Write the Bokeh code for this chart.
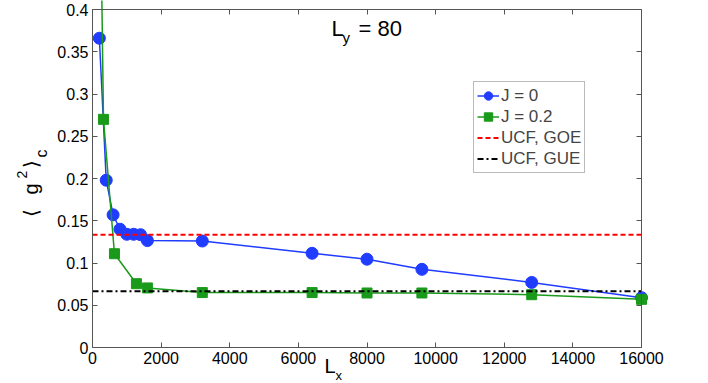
import math
from bokeh.plotting import figure
from bokeh.models import (LinearAxis, FixedTicker, Label, Range1d, Legend, LegendItem)
from bokeh.embed import file_html
from bokeh.resources import INLINE

# ---- data ----
lx_j0 = [200, 400, 600, 800, 1000, 1200, 1400, 1600, 3200, 6400, 8000, 9600, 12800, 16000]
g2_j0 = [0.366, 0.198, 0.157, 0.140, 0.134, 0.134, 0.1335, 0.1265, 0.126, 0.1115, 0.1045, 0.0925, 0.077, 0.059]

lx_j02 = [160, 320, 640, 1280, 1600, 3200, 6400, 8000, 9600, 12800, 16000]
g2_j02 = [0.75, 0.270, 0.111, 0.0755, 0.0705, 0.065, 0.065, 0.0645, 0.0645, 0.0625, 0.057]

ucf_x = [0, 16000]
ucf_goe = [2 / 15, 2 / 15]
ucf_gue = [1 / 15, 1 / 15]

x_ticks = [0, 2000, 4000, 6000, 8000, 10000, 12000, 14000, 16000]
x_tick_labels = ["0", "2000", "4000", "6000", "8000", "10000", "12000", "14000", "16000"]
y_ticks = [0, 0.05, 0.1, 0.15, 0.2, 0.25, 0.3, 0.35, 0.4]
y_tick_labels = ["0", "0.05", "0.1", "0.15", "0.2", "0.25", "0.3", "0.35", "0.4"]

X_MIN, X_MAX = 0, 16000
Y_MIN, Y_MAX = 0, 0.4

FONT = "Liberation Sans"
BLUE = "#1f3cff"
GREEN = "#1a9a1a"
AXC = "#555555"

# ---- layout: the frame fills the canvas; the box sits at these pixels ----
W, H = 700, 383
BOX_L, BOX_R, BOX_T, BOX_B = 92, 641, 9, 347
xs = (X_MAX - X_MIN) / (BOX_R - BOX_L)
ys = (Y_MAX - Y_MIN) / (BOX_B - BOX_T)

p = figure(width=W, height=H, output_backend="svg", toolbar_location=None,
           x_range=Range1d(X_MIN - BOX_L * xs, X_MAX + (W - BOX_R) * xs),
           y_range=Range1d(Y_MIN - (H - BOX_B) * ys, Y_MAX + BOX_T * ys),
           min_border=0, x_axis_location=None, y_axis_location=None)
p.grid.visible = False
p.outline_line_color = None
p.background_fill_color = "white"
p.border_fill_color = "white"

def make_axis(ticks, labels, loc, bounds, show_labels):
    ax = LinearAxis(ticker=FixedTicker(ticks=ticks), fixed_location=loc, bounds=bounds)
    ax.major_tick_in = 5
    ax.major_tick_out = 0
    ax.minor_tick_line_color = None
    ax.axis_line_color = AXC
    ax.major_tick_line_color = AXC
    ax.major_label_text_font = FONT
    ax.major_label_text_font_size = "16px"
    if show_labels:
        ax.major_label_overrides = {t: l for t, l in zip(ticks, labels)}
        ax.major_label_text_color = "black"
        ax.major_label_standoff = 4
    else:
        ax.major_label_text_color = None
        ax.major_label_standoff = 0
    return ax

p.add_layout(make_axis(x_ticks, x_tick_labels, Y_MIN, (X_MIN, X_MAX), True), "below")
p.add_layout(make_axis(y_ticks, y_tick_labels, X_MIN, (Y_MIN, Y_MAX), True), "left")
p.add_layout(make_axis(x_ticks, x_tick_labels, Y_MAX, (X_MIN, X_MAX), False), "above")
p.add_layout(make_axis(y_ticks, y_tick_labels, X_MAX, (Y_MIN, Y_MAX), False), "right")

l1 = p.line(lx_j0, g2_j0, line_color=BLUE, line_width=1.5)
m1 = p.scatter(lx_j0, g2_j0, marker="circle", size=12, fill_color=BLUE, line_color=BLUE)
l2 = p.line(lx_j02, g2_j02, line_color=GREEN, line_width=1.5)
m2 = p.scatter(lx_j02, g2_j02, marker="square", size=10, fill_color=GREEN, line_color=GREEN)
l3 = p.line(ucf_x, ucf_goe, line_color="#ff0000", line_width=2, line_dash="5 3")
l4 = p.line(ucf_x, ucf_gue, line_color="black", line_width=2, line_dash="6 3 2 3")

legend = Legend(items=[
    LegendItem(label="J = 0", renderers=[l1, m1]),
    LegendItem(label="J = 0.2", renderers=[l2, m2]),
    LegendItem(label="UCF, GOE", renderers=[l3]),
    LegendItem(label="UCF, GUE", renderers=[l4]),
], location=(473, H - 173))
legend.label_text_font = FONT
legend.label_text_font_size = "17px"
legend.label_height = 21
legend.glyph_height = 21
legend.glyph_width = 22
legend.label_standoff = 2
legend.padding = 3
legend.spacing = 0
legend.margin = 0
legend.border_line_color = "#777777"
legend.border_line_width = 1
legend.background_fill_alpha = 1
p.add_layout(legend, "center")

def lab(text, px, py, size, angle=0.0):
    p.add_layout(Label(x=px, y=H - py, x_units="screen", y_units="screen", text=text,
                       text_font=FONT, text_font_size=size, text_align="left",
                       text_baseline="alphabetic", angle=angle, text_color="black"))

# title L_y = 80
lab("L", 331, 28, "22px")
lab("y", 342, 37, "15px")
lab("= 80", 358, 28, "22px")

# x label L_x
lab("L", 324, 365, "20px")
lab("x", 335, 375, "13px")

# y label <g^2>_c (rotated, reading upwards)
R = math.pi / 2
lab("\u27e8", 30, 216, "20px", angle=R)
lab("g", 30, 194, "20px", angle=R)
lab("2", 21, 178, "14px", angle=R)
lab("\u27e9", 30, 167, "20px", angle=R)
lab("c", 41, 157, "16px", angle=R)

open("out.html", "w").write(file_html(p, INLINE))
